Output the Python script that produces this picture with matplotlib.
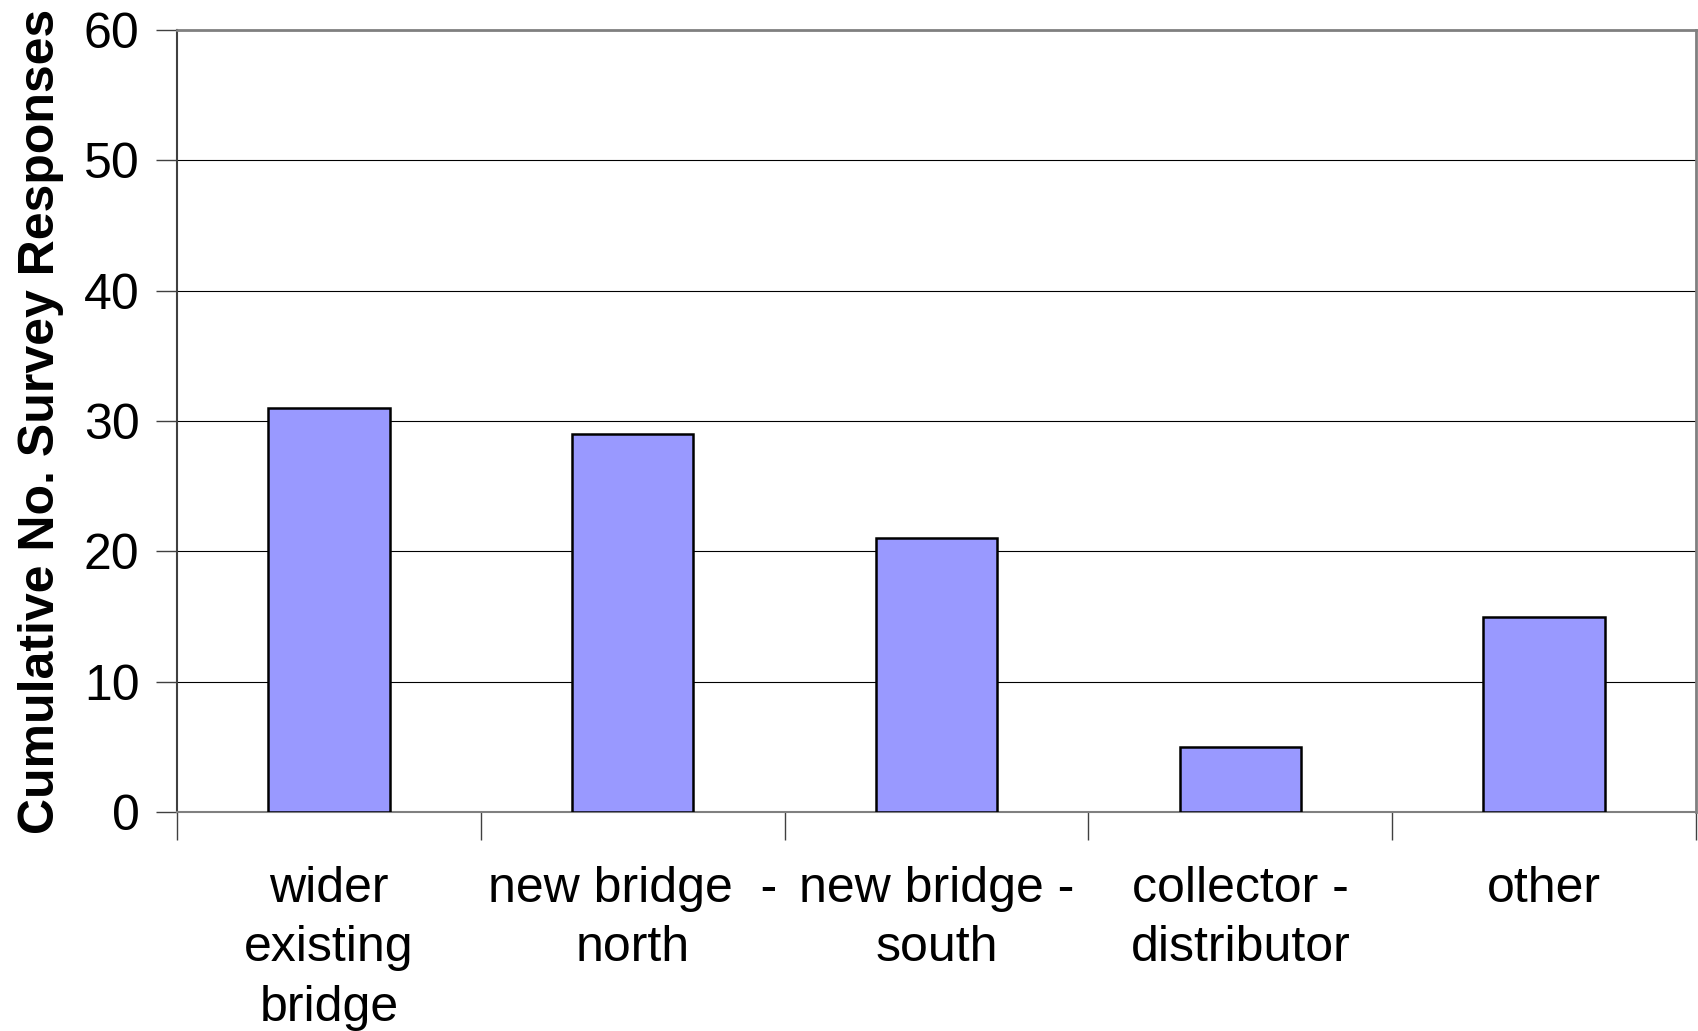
import matplotlib
matplotlib.use("Agg")
import matplotlib.pyplot as plt
import numpy as np

categories = ["wider\nexisting\nbridge", "new bridge  -\nnorth", "new bridge -\nsouth",
              "collector -\ndistributor", "other"]
values = [31, 29, 21, 5, 15]
yticks = [0, 10, 20, 30, 40, 50, 60]
ylabel = "Cumulative No. Survey Responses"

plt.rcParams['font.family'] = ['Liberation Sans', 'DejaVu Sans']

fig = plt.figure(figsize=(16.98, 10.31), dpi=100)
ax = fig.add_axes([177/1698, 1 - 812/1031, (1696-177)/1698, (812-30)/1031])

x = np.arange(len(values))
ax.bar(x, values, width=0.4, color="#9999FF", edgecolor="black", linewidth=1.8, zorder=3)

ax.set_xlim(-0.5, len(values) - 0.5)
ax.set_ylim(0, 60)
ax.set_yticks(yticks)
ax.set_yticklabels([str(t) for t in yticks], fontsize=36)
ax.yaxis.grid(True, color="black", linewidth=0.8, zorder=0)
ax.set_axisbelow(True)

# major ticks at category boundaries
ax.set_xticks(np.arange(-0.5, len(values), 1.0))
ax.set_xticklabels([""] * (len(values) + 1))
ax.tick_params(axis='x', which='major', length=20, width=1.0, color="#404040", direction='out')
# labels on minor ticks at centres
ax.set_xticks(x, minor=True)
ax.set_xticklabels(categories, minor=True, fontsize=36, linespacing=1.37)
ax.tick_params(axis='x', which='minor', length=0, pad=39)

ax.tick_params(axis='y', length=15, width=1.0, color="#404040", direction='out', pad=12)

for s in ['top', 'right']:
    ax.spines[s].set_color("#808080")
    ax.spines[s].set_linewidth(2.0)
ax.spines['bottom'].set_color("#808080")
ax.spines['bottom'].set_linewidth(1.5)
ax.spines['left'].set_color("#404040")
ax.spines['left'].set_linewidth(1.5)

ax.set_ylabel(ylabel, fontsize=36, fontweight='bold', labelpad=14)

fig.savefig("out.png", dpi=100)
